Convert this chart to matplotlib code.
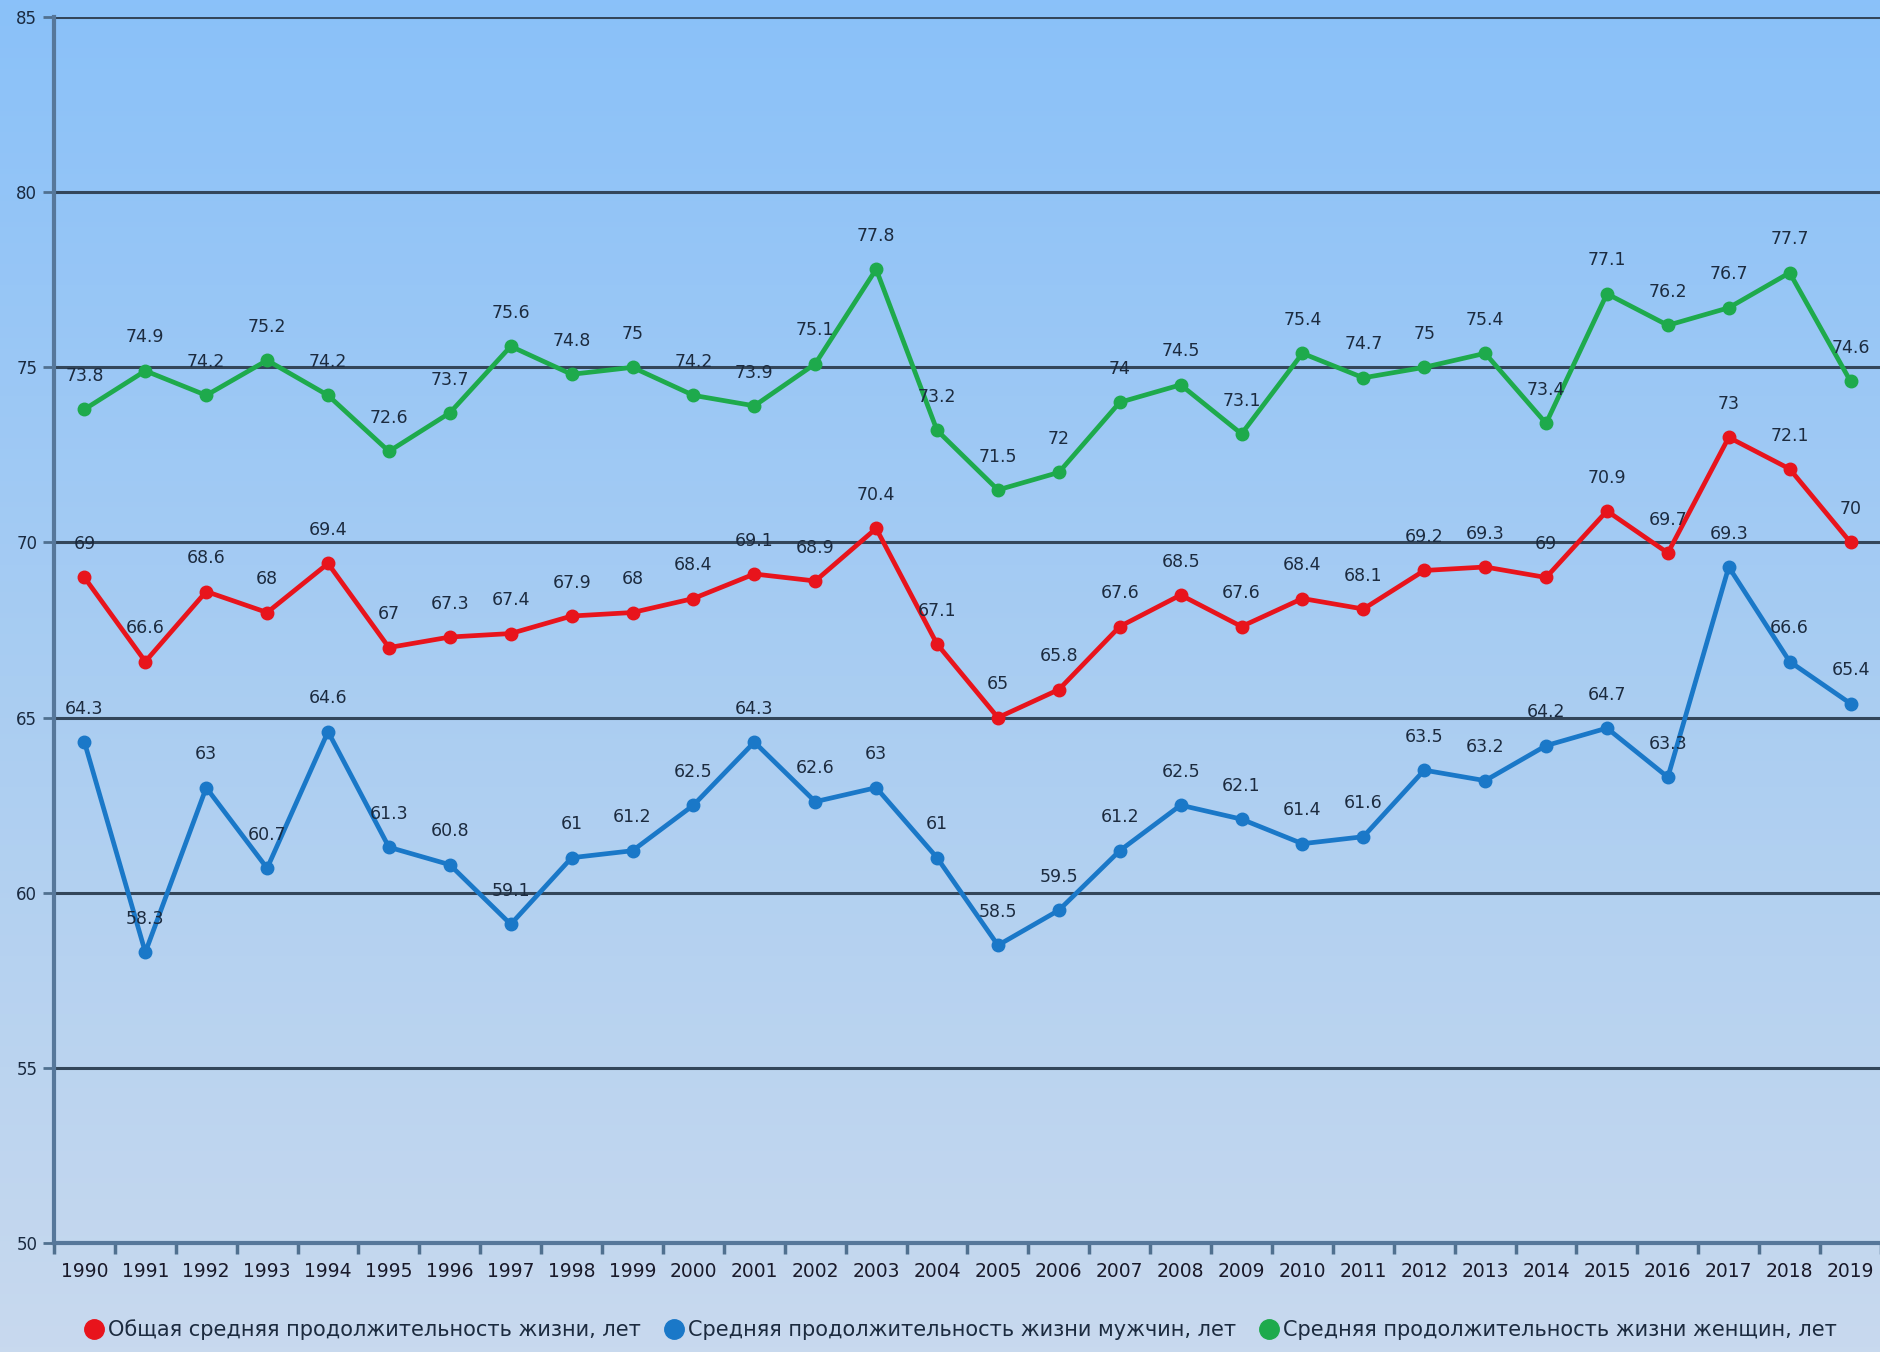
import matplotlib

matplotlib.use("Agg")
import matplotlib.pyplot as plt
import numpy as np
from matplotlib.colors import LinearSegmentedColormap
from matplotlib.lines import Line2D

years = list(range(1990, 2020))
total = [69, 66.6, 68.6, 68, 69.4, 67, 67.3, 67.4, 67.9, 68,
         68.4, 69.1, 68.9, 70.4, 67.1, 65, 65.8, 67.6, 68.5, 67.6,
         68.4, 68.1, 69.2, 69.3, 69, 70.9, 69.7, 73, 72.1, 70]
male = [64.3, 58.3, 63, 60.7, 64.6, 61.3, 60.8, 59.1, 61, 61.2,
        62.5, 64.3, 62.6, 63, 61, 58.5, 59.5, 61.2, 62.5, 62.1,
        61.4, 61.6, 63.5, 63.2, 64.2, 64.7, 63.3, 69.3, 66.6, 65.4]
female = [73.8, 74.9, 74.2, 75.2, 74.2, 72.6, 73.7, 75.6, 74.8, 75,
          74.2, 73.9, 75.1, 77.8, 73.2, 71.5, 72, 74, 74.5, 73.1,
          75.4, 74.7, 75, 75.4, 73.4, 77.1, 76.2, 76.7, 77.7, 74.6]
labels = [
    "Общая средняя продолжительность жизни, лет",
    "Средняя продолжительность жизни мужчин, лет",
    "Средняя продолжительность жизни женщин, лет",
]
colors = ["#e8141c", "#1a78c8", "#1eaa4c"]

fig = plt.figure(figsize=(18.81, 13.52), dpi=100)

# background gradient over the whole figure
bg = fig.add_axes([0, 0, 1, 1], zorder=-10)
cmap = LinearSegmentedColormap.from_list("bg", ["#c8d9ee", "#a9cdf2", "#8ac1f9"])
bg.imshow(np.linspace(0, 1, 256).reshape(-1, 1), aspect="auto", cmap=cmap,
          origin="lower", extent=[0, 1, 0, 1])
bg.axis("off")

ax = fig.add_axes([0.0287, 0.0806, 0.9713, 0.9068])
ax.set_facecolor("none")

x = np.array(years)
for series, col in zip([total, male, female], colors):
    ax.plot(x, series, color=col, linewidth=3.4, marker="o", markersize=9, zorder=3)
    for xi, yi in zip(x, series):
        ax.annotate(f"{yi:g}", (xi, yi), xytext=(0, 24), textcoords="offset points",
                    ha="center", va="center", fontsize=12.5, color="#1c2b3f", zorder=4)

ax.set_xlim(1989.5, 2019.5)
ax.set_ylim(50, 85)
ax.set_yticks(range(50, 90, 5))
ax.set_xticks(x)
ax.set_xticklabels([str(y) for y in years])
ax.set_xticks(np.arange(1989.5, 2020, 1), minor=True)
ax.tick_params(axis="x", which="major", length=0, pad=14, labelsize=13.5, labelcolor="#1a1a2a")
ax.tick_params(axis="x", which="minor", length=8, width=2.5, color="#50708f", direction="out")
ax.tick_params(axis="y", length=8, width=2, color="#50708f", labelsize=12, labelcolor="#1a2a40", pad=4)

for v in range(55, 90, 5):
    ax.axhline(v, color="#33465a", linewidth=2.2, zorder=1)

for side in ["top", "right"]:
    ax.spines[side].set_visible(False)
for side in ["left", "bottom"]:
    ax.spines[side].set_color("#56779a")
    ax.spines[side].set_linewidth(3)

handles = [Line2D([], [], marker="o", linestyle="none", markersize=14, color=c) for c in colors]
fig.legend(handles, labels, loc="lower center", bbox_to_anchor=(0.51, -0.005), ncol=3,
           frameon=False, fontsize=15, handletextpad=0.05, columnspacing=1.0,
           handlelength=1.2, labelcolor="#1c2b3f")

fig.savefig("out.png", dpi=100)
